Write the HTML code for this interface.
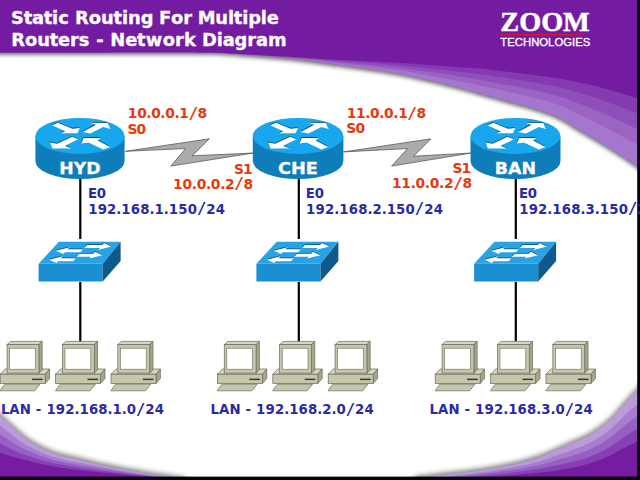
<!DOCTYPE html>
<html lang="en"><head><meta charset="utf-8"><title>Static Routing For Multiple Routers - Network Diagram</title>
<style>
html,body{margin:0;padding:0;background:#fff;width:640px;height:480px;overflow:hidden}
svg{display:block;position:absolute;left:0;top:0}
text{font-family:"DejaVu Sans","Liberation Sans",sans-serif;font-weight:bold}
.t{fill:#fff;font-size:18px;stroke:#fff;stroke-width:0.3px}
.r{fill:#e8380d;font-size:13.5px}
.b{fill:#2a2aa6;font-size:13.5px}
.n{fill:#fff;font-size:16.4px;stroke:#fff;stroke-width:0.3px}
</style></head><body>
<svg width="640" height="480" viewBox="0 0 640 480">
<defs>
<filter id="bl1" x="-5%" y="-20%" width="110%" height="140%"><feGaussianBlur stdDeviation="2"/></filter>
<filter id="bl2" x="-5%" y="-20%" width="110%" height="140%"><feGaussianBlur stdDeviation="2.6"/></filter>
<filter id="bl05" x="-5%" y="-20%" width="110%" height="140%"><feGaussianBlur stdDeviation="0.6"/></filter>
</defs>
<rect width="640" height="480" fill="#fff"/>

<path d="M-5.0,54.6 C12.5,54.6 65.8,54.6 100.0,54.6 C134.2,54.6 176.7,54.3 200.0,54.6 C223.3,54.9 225.0,55.4 240.0,56.4 C255.0,57.4 273.3,58.6 290.0,60.4 C306.7,62.2 321.7,64.5 340.0,67.1 C358.3,69.7 381.7,72.7 400.0,76.1 C418.3,79.5 435.0,83.9 450.0,87.6 C465.0,91.3 473.3,93.7 490.0,98.4 C506.7,103.1 535.0,110.2 550.0,115.9 C565.0,121.6 570.0,126.8 580.0,132.6 C590.0,138.4 600.7,144.8 610.0,150.6 C619.3,156.4 629.7,163.4 636.0,167.6 C642.3,171.8 646.0,174.3 648.0,175.6 L648,-5 L-5,-5 Z" fill="#333" filter="url(#bl1)" opacity="0.75"/>
<path d="M-5.0,52.5 C12.5,52.5 65.8,52.5 100.0,52.5 C134.2,52.5 176.7,52.2 200.0,52.5 C223.3,52.8 225.0,53.3 240.0,54.3 C255.0,55.3 273.3,56.5 290.0,58.3 C306.7,60.1 321.7,62.4 340.0,65.0 C358.3,67.6 381.7,70.6 400.0,74.0 C418.3,77.4 435.0,81.8 450.0,85.5 C465.0,89.2 473.3,91.6 490.0,96.3 C506.7,101.0 535.0,108.1 550.0,113.8 C565.0,119.5 570.0,124.7 580.0,130.5 C590.0,136.3 600.7,142.7 610.0,148.5 C619.3,154.3 629.7,161.3 636.0,165.5 C642.3,169.7 646.0,172.2 648.0,173.5 L648,-5 L-5,-5 Z" fill="#a576cd" filter="url(#bl05)"/>
<path d="M-5.0,52.5 C12.5,52.5 65.8,52.5 100.0,52.5 C134.2,52.5 176.7,52.2 200.0,52.5 C223.3,52.8 225.0,53.3 240.0,54.2 C255.0,55.1 273.3,56.3 290.0,57.8 C306.7,59.4 321.7,61.3 340.0,63.4 C358.3,65.5 381.7,67.8 400.0,70.5 C418.3,73.2 435.0,76.5 450.0,79.4 C465.0,82.3 473.3,84.0 490.0,87.8 C506.7,91.6 535.0,97.5 550.0,102.1 C565.0,106.6 570.0,110.5 580.0,115.1 C590.0,119.8 600.7,125.0 610.0,129.8 C619.3,134.6 629.7,140.4 636.0,143.9 C642.3,147.4 646.0,149.6 648.0,150.8 L648,-5 L-5,-5 Z" fill="#9a64c4" filter="url(#bl05)"/>
<path d="M-5.0,52.5 C12.5,52.5 65.8,52.5 100.0,52.5 C134.2,52.5 176.7,52.2 200.0,52.5 C223.3,52.8 225.0,53.3 240.0,54.1 C255.0,55.0 273.3,56.1 290.0,57.5 C306.7,58.8 321.7,60.5 340.0,62.2 C358.3,64.0 381.7,65.8 400.0,68.0 C418.3,70.1 435.0,72.8 450.0,75.0 C465.0,77.3 473.3,78.6 490.0,81.7 C506.7,84.8 535.0,89.9 550.0,93.7 C565.0,97.4 570.0,100.3 580.0,104.1 C590.0,107.9 600.7,112.3 610.0,116.3 C619.3,120.4 629.7,125.4 636.0,128.4 C642.3,131.4 646.0,133.4 648.0,134.4 L648,-5 L-5,-5 Z" fill="#8e50ba" filter="url(#bl05)"/>
<path d="M-5.0,52.5 C12.5,52.5 65.8,52.5 100.0,52.5 C134.2,52.5 176.7,52.2 200.0,52.5 C223.3,52.8 225.0,53.3 240.0,54.1 C255.0,54.8 273.3,56.0 290.0,57.1 C306.7,58.3 321.7,59.7 340.0,61.1 C358.3,62.5 381.7,63.8 400.0,65.4 C418.3,67.0 435.0,69.0 450.0,70.7 C465.0,72.4 473.3,73.1 490.0,75.6 C506.7,78.0 535.0,82.3 550.0,85.3 C565.0,88.2 570.0,90.1 580.0,93.1 C590.0,96.0 600.7,99.6 610.0,102.9 C619.3,106.2 629.7,110.3 636.0,112.8 C642.3,115.4 646.0,117.2 648.0,118.1 L648,-5 L-5,-5 Z" fill="#843aaf" filter="url(#bl05)"/>
<path d="M-5.0,52.5 C12.5,52.5 65.8,52.5 100.0,52.5 C134.2,52.5 176.7,52.2 200.0,52.5 C223.3,52.8 225.0,53.3 240.0,54.0 C255.0,54.7 273.3,55.8 290.0,56.8 C306.7,57.8 321.7,59.0 340.0,60.0 C358.3,61.0 381.7,61.9 400.0,63.0 C418.3,64.1 435.0,65.4 450.0,66.5 C465.0,67.6 473.3,67.9 490.0,69.7 C506.7,71.5 535.0,75.1 550.0,77.2 C565.0,79.3 570.0,80.4 580.0,82.5 C590.0,84.6 600.7,87.4 610.0,90.0 C619.3,92.6 629.7,95.9 636.0,98.0 C642.3,100.1 646.0,101.8 648.0,102.5 L648,-5 L-5,-5 Z" fill="#741ca1" />
<path d="M-6.0,407.4 C-5.0,408.3 -3.1,410.2 0.0,413.0 C3.1,415.8 8.3,420.7 12.5,424.4 C16.7,428.1 20.8,432.2 25.0,435.4 C29.2,438.6 33.3,441.1 37.5,443.4 C41.7,445.7 45.8,447.7 50.0,449.4 C54.2,451.1 57.5,452.1 62.5,453.4 C67.5,454.7 74.8,456.1 80.0,457.4 C85.2,458.6 87.3,459.4 94.0,460.9 C100.7,462.4 110.7,464.6 120.0,466.4 C129.3,468.2 142.5,470.4 150.0,471.7 C157.5,472.9 159.2,473.0 165.0,473.9 C170.8,474.8 181.7,476.4 185.0,476.9 L185,485 L-6,485 Z" fill="#333" filter="url(#bl2)" opacity="0.6"/>
<path d="M-6.0,410.0 C-5.0,410.9 -3.1,412.8 0.0,415.6 C3.1,418.4 8.3,423.3 12.5,427.0 C16.7,430.7 20.8,434.8 25.0,438.0 C29.2,441.2 33.3,443.7 37.5,446.0 C41.7,448.3 45.8,450.3 50.0,452.0 C54.2,453.7 57.5,454.7 62.5,456.0 C67.5,457.3 74.8,458.8 80.0,460.0 C85.2,461.2 87.3,462.0 94.0,463.5 C100.7,465.0 110.7,467.2 120.0,469.0 C129.3,470.8 142.5,473.1 150.0,474.3 C157.5,475.6 159.2,475.6 165.0,476.5 C170.8,477.4 181.7,479.0 185.0,479.5 L185.0,485 L-6,485 Z" fill="#bb9ada" filter="url(#bl05)"/>
<path d="M-6.0,421.1 C-5.0,421.8 -2.9,423.4 0.0,425.6 C2.9,427.9 7.7,431.7 11.6,434.7 C15.4,437.7 19.0,440.8 23.3,443.5 C27.6,446.1 33.2,448.7 37.5,450.7 C41.8,452.7 45.0,454.1 48.9,455.5 C52.8,456.9 55.8,457.7 60.7,458.9 C65.7,460.1 73.1,461.5 78.7,462.6 C84.2,463.7 87.1,464.4 94.0,465.7 C100.9,467.0 111.1,468.9 120.0,470.4 C128.9,471.9 140.0,473.7 147.3,474.8 C154.6,475.9 157.8,476.2 163.7,477.0 C169.5,477.9 179.2,479.4 182.3,479.9 L182.3,485 L-6,485 Z" fill="#a77dcf" filter="url(#bl05)"/>
<path d="M-6.0,430.5 C-5.0,431.1 -2.8,432.4 0.0,434.2 C2.8,436.0 7.1,438.9 10.8,441.2 C14.4,443.6 17.4,445.9 21.9,448.1 C26.3,450.4 33.1,452.9 37.5,454.6 C41.9,456.4 44.4,457.4 48.0,458.5 C51.6,459.6 54.3,460.3 59.2,461.4 C64.2,462.4 71.7,463.8 77.5,464.8 C83.3,465.8 86.9,466.5 94.0,467.6 C101.1,468.8 111.5,470.4 120.0,471.6 C128.5,472.9 137.9,474.2 145.0,475.1 C152.1,476.1 156.7,476.6 162.5,477.5 C168.3,478.4 177.1,479.8 180.0,480.2 L180.0,485 L-6,485 Z" fill="#955fc3" filter="url(#bl05)"/>
<path d="M-6.0,440.8 C-5.0,441.2 -2.6,442.2 0.0,443.5 C2.6,444.8 6.5,446.8 9.9,448.4 C13.3,450.0 15.7,451.5 20.3,453.2 C24.9,455.0 33.1,457.6 37.5,459.0 C41.9,460.4 43.6,460.9 47.0,461.8 C50.4,462.6 52.8,463.2 57.6,464.1 C62.5,465.0 70.2,466.3 76.2,467.2 C82.3,468.1 86.7,468.8 94.0,469.7 C101.3,470.7 111.9,471.9 120.0,472.9 C128.1,473.9 135.6,474.7 142.5,475.6 C149.4,476.4 155.4,477.2 161.2,478.0 C167.1,478.8 174.8,480.2 177.5,480.6 L177.5,485 L-6,485 Z" fill="#8641b4" filter="url(#bl05)"/>
<path d="M-6.0,451.0 C-5.0,451.3 -2.5,452.1 0.0,452.8 C2.5,453.6 5.9,454.6 9.0,455.5 C12.1,456.4 14.0,457.0 18.8,458.3 C23.5,459.6 33.0,462.2 37.5,463.3 C42.0,464.4 42.9,464.4 46.0,465.0 C49.1,465.6 51.2,466.0 56.0,466.8 C60.8,467.6 68.7,468.8 75.0,469.6 C81.3,470.4 86.5,471.0 94.0,471.8 C101.5,472.6 112.3,473.5 120.0,474.2 C127.7,474.9 133.3,475.3 140.0,476.0 C146.7,476.7 154.2,477.7 160.0,478.5 C165.8,479.3 172.5,480.6 175.0,481.0 L175.0,485 L-6,485 Z" fill="#741ca1" filter="url(#bl05)"/>
<path d="M648.0,372.4 C646.2,375.0 640.0,384.1 637.0,387.9 C634.0,391.6 632.4,392.3 630.0,394.9 C627.6,397.5 625.8,399.6 622.5,403.4 C619.2,407.1 614.2,413.4 610.0,417.4 C605.8,421.4 601.7,424.5 597.5,427.4 C593.3,430.3 589.2,432.7 585.0,434.9 C580.8,437.1 576.7,438.6 572.5,440.4 C568.3,442.2 565.4,443.5 560.0,445.9 C554.6,448.3 546.7,452.2 540.0,454.6 C533.3,457.0 526.7,458.7 520.0,460.4 C513.3,462.1 506.7,463.4 500.0,464.7 C493.3,466.0 486.7,467.2 480.0,468.2 C473.3,469.2 466.7,469.9 460.0,470.7 C453.3,471.5 447.5,472.0 440.0,472.9 C432.5,473.8 419.2,475.4 415.0,475.9 L415,485 L648,485 Z" fill="#333" filter="url(#bl2)" opacity="0.6"/>
<path d="M648.0,375.0 C646.2,377.6 640.0,386.8 637.0,390.5 C634.0,394.2 632.4,394.9 630.0,397.5 C627.6,400.1 625.8,402.2 622.5,406.0 C619.2,409.8 614.2,416.0 610.0,420.0 C605.8,424.0 601.7,427.1 597.5,430.0 C593.3,432.9 589.2,435.3 585.0,437.5 C580.8,439.7 576.7,441.2 572.5,443.0 C568.3,444.8 565.4,446.1 560.0,448.5 C554.6,450.9 546.7,454.8 540.0,457.2 C533.3,459.6 526.7,461.3 520.0,463.0 C513.3,464.7 506.7,466.0 500.0,467.3 C493.3,468.6 486.7,469.8 480.0,470.8 C473.3,471.8 466.7,472.5 460.0,473.3 C453.3,474.1 447.5,474.6 440.0,475.5 C432.5,476.4 419.2,478.0 415.0,478.5 L415.0,485 L648,485 Z" fill="#bb9ada" filter="url(#bl05)"/>
<path d="M648.0,390.9 C646.2,393.2 640.0,401.0 637.0,404.3 C634.0,407.5 632.4,408.1 630.0,410.3 C627.6,412.5 625.8,414.4 622.5,417.5 C619.2,420.7 614.3,426.0 610.3,429.4 C606.2,432.9 602.2,435.6 598.2,438.1 C594.2,440.6 590.3,442.6 586.4,444.5 C582.4,446.3 578.9,447.6 574.5,449.2 C570.1,450.8 565.8,452.3 560.0,454.3 C554.2,456.3 546.7,459.4 540.0,461.3 C533.3,463.3 526.7,464.7 520.0,466.1 C513.3,467.5 506.7,468.6 500.0,469.6 C493.3,470.7 486.4,471.7 480.0,472.6 C473.6,473.5 467.6,474.1 461.4,474.8 C455.1,475.5 449.3,476.1 442.7,476.9 C436.1,477.6 425.2,479.0 421.8,479.4 L421.8,485 L648,485 Z" fill="#a77dcf" filter="url(#bl05)"/>
<path d="M648.0,404.5 C646.2,406.4 640.0,413.2 637.0,416.0 C634.0,418.8 632.4,419.4 630.0,421.2 C627.6,423.1 625.8,424.7 622.5,427.4 C619.2,430.1 614.5,434.6 610.5,437.5 C606.5,440.4 602.6,442.9 598.8,445.0 C594.9,447.1 591.2,448.8 587.5,450.4 C583.8,452.0 580.8,453.0 576.2,454.5 C571.7,456.0 566.0,457.5 560.0,459.2 C554.0,461.0 546.7,463.3 540.0,464.9 C533.3,466.4 526.7,467.6 520.0,468.8 C513.3,469.9 506.7,470.8 500.0,471.6 C493.3,472.5 486.2,473.4 480.0,474.1 C473.8,474.9 468.3,475.5 462.5,476.1 C456.7,476.8 450.8,477.3 445.0,478.0 C439.2,478.7 430.4,479.9 427.5,480.2 L427.5,485 L648,485 Z" fill="#955fc3" filter="url(#bl05)"/>
<path d="M648.0,419.2 C646.2,420.8 640.0,426.4 637.0,428.8 C634.0,431.1 632.4,431.6 630.0,433.1 C627.6,434.7 625.7,435.9 622.5,438.1 C619.3,440.2 614.6,443.8 610.8,446.2 C606.9,448.7 603.0,450.7 599.4,452.5 C595.7,454.3 592.3,455.6 588.8,456.9 C585.2,458.1 582.9,459.0 578.1,460.2 C573.3,461.5 566.4,463.2 560.0,464.6 C553.6,466.0 546.7,467.5 540.0,468.7 C533.3,469.8 526.7,470.8 520.0,471.6 C513.3,472.5 506.7,473.1 500.0,473.8 C493.3,474.5 486.0,475.2 480.0,475.8 C474.0,476.4 469.2,477.0 463.8,477.6 C458.3,478.1 452.5,478.7 447.5,479.2 C442.5,479.8 436.0,480.8 433.8,481.1 L433.8,485 L648,485 Z" fill="#8641b4" filter="url(#bl05)"/>
<path d="M648.0,434.0 C646.2,435.2 640.0,439.7 637.0,441.5 C634.0,443.3 632.4,443.8 630.0,445.0 C627.6,446.2 625.7,447.1 622.5,448.8 C619.3,450.4 614.8,453.1 611.0,455.0 C607.2,456.9 603.5,458.6 600.0,460.0 C596.5,461.4 593.3,462.3 590.0,463.3 C586.7,464.3 585.0,464.9 580.0,466.0 C575.0,467.1 566.7,468.9 560.0,470.0 C553.3,471.1 546.7,471.8 540.0,472.5 C533.3,473.2 526.7,473.9 520.0,474.5 C513.3,475.1 506.7,475.5 500.0,476.0 C493.3,476.5 485.8,477.0 480.0,477.5 C474.2,478.0 470.0,478.5 465.0,479.0 C460.0,479.5 454.2,480.0 450.0,480.5 C445.8,481.0 441.7,481.8 440.0,482.0 L440.0,485 L648,485 Z" fill="#741ca1" filter="url(#bl05)"/>
<rect x="0" y="476.6" width="640" height="4" fill="#08000c"/>
<rect x="637.2" y="0" width="3" height="480" fill="#08000c"/>
<text x="500.3" y="30.6" textLength="89.5" lengthAdjust="spacingAndGlyphs" style="font-family:'Liberation Serif',serif;font-weight:bold;font-size:27.5px;fill:#fff;stroke:#fff;stroke-width:0.5px">ZOOM</text>
<rect x="500.5" y="33.9" width="83" height="1.5" fill="#cf1a3a"/>
<text x="500.3" y="46.3" textLength="90" lengthAdjust="spacingAndGlyphs" style="font-family:'Liberation Sans',sans-serif;font-weight:normal;font-size:10px;fill:#fff;stroke:#fff;stroke-width:0.3px">TECHNOLOGIES</text>
<polygon points="125.5,151.3 209.3,138.8 192.2,155.8 253.5,153.0 170.8,166.1 185.6,148.6" fill="#ababab" stroke="#4a4a4a" stroke-width="0.7" stroke-linejoin="miter"/>
<polygon points="343.5,151.9 431.0,138.8 413.5,156.2 471.5,153.0 391.6,166.1 407.6,148.6" fill="#ababab" stroke="#4a4a4a" stroke-width="0.7" stroke-linejoin="miter"/>
<rect x="79.2" y="176" width="2.2" height="63" fill="#000"/>
<rect x="79.2" y="282" width="2.2" height="59.5" fill="#000"/>
<rect x="297.7" y="176" width="2.2" height="63" fill="#000"/>
<rect x="297.7" y="282" width="2.2" height="59.5" fill="#000"/>
<rect x="514.7" y="176" width="2.2" height="63" fill="#000"/>
<rect x="514.7" y="282" width="2.2" height="59.5" fill="#000"/>
<path d="M35.40,135.9 L35.40,161.1 A44.6,18 0 0 0 124.60,161.1 L124.60,135.9 Z" fill="#107dbb"/>
<ellipse cx="80.00" cy="135.9" rx="44.6" ry="18" fill="#18a7ef"/>
<polygon points="51.7,124.4 57.6,121.9 72.2,127.8 79.5,127.2 77.2,132.3 60.9,132.3 64.9,130.3" fill="#0b4a70"/>
<polygon points="52.0,125.3 57.9,122.8 72.5,128.7 79.8,128.1 77.5,133.2 61.1,133.2 65.2,131.2" fill="#fff"/>
<polygon points="82.2,131.2 90.0,132.6 103.0,126.1 110.2,128.1 107.5,122.2 89.5,121.9 95.7,123.8" fill="#0b4a70"/>
<polygon points="82.5,132.1 90.3,133.5 103.2,127.0 110.5,129.0 107.8,123.1 89.8,122.8 96.0,124.7" fill="#fff"/>
<polygon points="71.9,135.9 78.0,138.4 64.5,144.9 71.2,147.7 52.2,147.7 49.9,141.5 56.7,142.9" fill="#0b4a70"/>
<polygon points="72.2,136.8 78.3,139.3 64.8,145.8 71.5,148.6 52.5,148.6 50.1,142.4 57.0,143.8" fill="#fff"/>
<polygon points="83.2,137.0 81.0,142.6 88.0,141.5 103.0,148.5 109.7,146.0 97.4,139.5 100.2,137.0" fill="#0b4a70"/>
<polygon points="83.5,137.9 81.3,143.5 88.3,142.4 103.2,149.4 110.0,146.9 97.7,140.4 100.5,137.9" fill="#fff"/>
<text class="n" x="79.9" y="174.4" text-anchor="middle" textLength="41.2" lengthAdjust="spacingAndGlyphs">HYD</text>
<path d="M252.80,135.9 L252.80,161.1 A45.3,18 0 0 0 343.40,161.1 L343.40,135.9 Z" fill="#107dbb"/>
<ellipse cx="298.10" cy="135.9" rx="45.3" ry="18" fill="#18a7ef"/>
<polygon points="269.8,124.4 275.7,121.9 290.2,127.8 297.6,127.2 295.2,132.3 278.9,132.3 282.9,130.3" fill="#0b4a70"/>
<polygon points="270.1,125.3 276.0,122.8 290.6,128.7 297.9,128.1 295.6,133.2 279.2,133.2 283.2,131.2" fill="#fff"/>
<polygon points="300.2,131.2 308.2,132.6 321.1,126.1 328.4,128.1 325.6,122.2 307.6,121.9 313.8,123.8" fill="#0b4a70"/>
<polygon points="300.6,132.1 308.5,133.5 321.4,127.0 328.7,129.0 325.9,123.1 307.9,122.8 314.1,124.7" fill="#fff"/>
<polygon points="289.9,135.9 296.2,138.4 282.7,144.9 289.4,147.7 270.2,147.7 267.9,141.5 274.8,142.9" fill="#0b4a70"/>
<polygon points="290.2,136.8 296.5,139.3 283.0,145.8 289.7,148.6 270.6,148.6 268.2,142.4 275.1,143.8" fill="#fff"/>
<polygon points="301.4,137.0 299.2,142.6 306.2,141.5 321.1,148.5 327.8,146.0 315.4,139.5 318.2,137.0" fill="#0b4a70"/>
<polygon points="301.7,137.9 299.5,143.5 306.5,142.4 321.4,149.4 328.1,146.9 315.8,140.4 318.6,137.9" fill="#fff"/>
<text class="n" x="298.0" y="174.4" text-anchor="middle" textLength="40" lengthAdjust="spacingAndGlyphs">CHE</text>
<path d="M470.50,135.9 L470.50,161.1 A45.0,18 0 0 0 560.50,161.1 L560.50,135.9 Z" fill="#107dbb"/>
<ellipse cx="515.50" cy="135.9" rx="45.0" ry="18" fill="#18a7ef"/>
<polygon points="487.1,124.4 493.1,121.9 507.6,127.8 515.0,127.2 512.7,132.3 496.3,132.3 500.3,130.3" fill="#0b4a70"/>
<polygon points="487.4,125.3 493.4,122.8 507.9,128.7 515.2,128.1 513.0,133.2 496.6,133.2 500.6,131.2" fill="#fff"/>
<polygon points="517.7,131.2 525.6,132.6 538.5,126.1 545.8,128.1 543.0,122.2 525.0,121.9 531.2,123.8" fill="#0b4a70"/>
<polygon points="518.0,132.1 525.9,133.5 538.8,127.0 546.0,129.0 543.2,123.1 525.2,122.8 531.5,124.7" fill="#fff"/>
<polygon points="507.3,135.9 513.6,138.4 500.1,144.9 506.8,147.7 487.6,147.7 485.3,141.5 492.1,142.9" fill="#0b4a70"/>
<polygon points="507.6,136.8 513.9,139.3 500.4,145.8 507.1,148.6 487.9,148.6 485.6,142.4 492.4,143.8" fill="#fff"/>
<polygon points="518.8,137.0 516.6,142.6 523.6,141.5 538.5,148.5 545.2,146.0 532.9,139.5 535.7,137.0" fill="#0b4a70"/>
<polygon points="519.0,137.9 516.9,143.5 523.9,142.4 538.8,149.4 545.5,146.9 533.1,140.4 536.0,137.9" fill="#fff"/>
<text class="n" x="515.4" y="174.4" text-anchor="middle" textLength="41.2" lengthAdjust="spacingAndGlyphs">BAN</text>
<polygon points="38.6,263.8 102.7,263.8 102.7,281.5 38.6,281.5" fill="#1c8fd2"/>
<polygon points="38.6,263.8 58.9,241.7 120.6,241.7 102.7,263.8" fill="#27a3e6"/>
<polygon points="102.7,263.8 120.6,241.7 120.6,261.0 102.7,281.5" fill="#0f5a8c"/>
<polygon points="86.7,244.2 102.1,244.2 103.9,242.3 111.3,245.7 97.7,249.1 99.5,247.2 84.0,247.2" fill="#0b4a70"/>
<polygon points="86.9,245.0 102.3,245.0 104.1,243.1 111.5,246.5 97.9,249.9 99.7,248.0 84.2,248.0" fill="#fff"/>
<polygon points="82.8,248.4 67.4,248.4 69.2,246.5 55.6,249.9 63.0,253.3 64.8,251.4 80.2,251.4" fill="#0b4a70"/>
<polygon points="83.0,249.2 67.6,249.2 69.4,247.3 55.8,250.7 63.2,254.1 65.0,252.2 80.4,252.2" fill="#fff"/>
<polygon points="78.9,252.9 93.1,252.9 94.9,251.0 102.3,254.4 88.7,257.8 90.5,255.9 76.2,255.9" fill="#0b4a70"/>
<polygon points="79.1,253.7 93.3,253.7 95.1,251.8 102.5,255.2 88.9,258.6 90.7,256.7 76.4,256.7" fill="#fff"/>
<polygon points="75.5,257.4 60.6,257.4 62.4,255.5 48.8,258.9 56.2,262.3 57.9,260.4 72.9,260.4" fill="#0b4a70"/>
<polygon points="75.8,258.2 60.9,258.2 62.6,256.3 49.0,259.7 56.4,263.1 58.1,261.2 73.1,261.2" fill="#fff"/>
<polygon points="256.4,263.8 320.5,263.8 320.5,281.5 256.4,281.5" fill="#1c8fd2"/>
<polygon points="256.4,263.8 276.7,241.7 338.4,241.7 320.5,263.8" fill="#27a3e6"/>
<polygon points="320.5,263.8 338.4,241.7 338.4,261.0 320.5,281.5" fill="#0f5a8c"/>
<polygon points="304.6,244.2 319.9,244.2 321.7,242.3 329.1,245.7 315.5,249.1 317.3,247.2 301.9,247.2" fill="#0b4a70"/>
<polygon points="304.8,245.0 320.1,245.0 321.9,243.1 329.3,246.5 315.7,249.9 317.5,248.0 302.1,248.0" fill="#fff"/>
<polygon points="300.7,248.4 285.2,248.4 287.0,246.5 273.4,249.9 280.8,253.3 282.6,251.4 298.0,251.4" fill="#0b4a70"/>
<polygon points="300.9,249.2 285.4,249.2 287.2,247.3 273.6,250.7 281.0,254.1 282.8,252.2 298.2,252.2" fill="#fff"/>
<polygon points="296.7,252.9 310.9,252.9 312.7,251.0 320.1,254.4 306.5,257.8 308.3,255.9 294.0,255.9" fill="#0b4a70"/>
<polygon points="296.9,253.7 311.1,253.7 312.9,251.8 320.3,255.2 306.7,258.6 308.5,256.7 294.2,256.7" fill="#fff"/>
<polygon points="293.4,257.4 278.5,257.4 280.2,255.5 266.6,258.9 274.0,262.3 275.8,260.4 290.7,260.4" fill="#0b4a70"/>
<polygon points="293.6,258.2 278.7,258.2 280.4,256.3 266.8,259.7 274.2,263.1 275.9,261.2 290.9,261.2" fill="#fff"/>
<polygon points="474.1,263.8 538.2,263.8 538.2,281.5 474.1,281.5" fill="#1c8fd2"/>
<polygon points="474.1,263.8 494.4,241.7 556.1,241.7 538.2,263.8" fill="#27a3e6"/>
<polygon points="538.2,263.8 556.1,241.7 556.1,261.0 538.2,281.5" fill="#0f5a8c"/>
<polygon points="522.2,244.2 537.6,244.2 539.4,242.3 546.8,245.7 533.2,249.1 534.9,247.2 519.5,247.2" fill="#0b4a70"/>
<polygon points="522.5,245.0 537.9,245.0 539.6,243.1 547.0,246.5 533.4,249.9 535.1,248.0 519.8,248.0" fill="#fff"/>
<polygon points="518.3,248.4 502.9,248.4 504.7,246.5 491.1,249.9 498.5,253.3 500.2,251.4 515.6,251.4" fill="#0b4a70"/>
<polygon points="518.5,249.2 503.1,249.2 504.9,247.3 491.3,250.7 498.7,254.1 500.4,252.2 515.9,252.2" fill="#fff"/>
<polygon points="514.4,252.9 528.6,252.9 530.4,251.0 537.8,254.4 524.2,257.8 525.9,255.9 511.7,255.9" fill="#0b4a70"/>
<polygon points="514.6,253.7 528.9,253.7 530.6,251.8 538.0,255.2 524.4,258.6 526.1,256.7 511.9,256.7" fill="#fff"/>
<polygon points="511.1,257.4 496.2,257.4 497.9,255.5 484.3,258.9 491.7,262.3 493.4,260.4 508.4,260.4" fill="#0b4a70"/>
<polygon points="511.2,258.2 496.4,258.2 498.1,256.3 484.5,259.7 491.9,263.1 493.6,261.2 508.6,261.2" fill="#fff"/>
<g transform="translate(0.2,0.6)"><polygon points="0.0,373.6 45.0,373.6 49.4,368.4 5.0,368.4" fill="#d6d6c2" stroke="#6a6a58" stroke-width="0.7"/><polygon points="45.0,373.6 49.4,368.4 49.4,377.9 45.0,382.9" fill="#a6a68c" stroke="#6a6a58" stroke-width="0.7"/><rect x="0" y="373.6" width="45" height="9.3" fill="#c6c6ae" stroke="#6a6a58" stroke-width="0.7"/><rect x="31.9" y="378" width="10.6" height="1.5" fill="#3a3a30"/><polygon points="6.8,344.0 38.7,344.0 42.0,340.8 10.5,340.8" fill="#d6d6c2" stroke="#6a6a58" stroke-width="0.7"/><polygon points="38.7,344.0 42.0,340.8 42.0,369.3 38.7,372.5" fill="#a6a68c" stroke="#6a6a58" stroke-width="0.7"/><rect x="6.85" y="344" width="31.85" height="28.5" fill="#c6c6ae" stroke="#6a6a58" stroke-width="0.7"/><rect x="9.4" y="347.6" width="25.8" height="21" fill="#fff" stroke="#6a6a58" stroke-width="0.6"/><polygon points="4.6,383.6 39.8,383.6 34.4,390.2 -0.2,390.2" fill="#c6c6ae" stroke="#6a6a58" stroke-width="0.7"/></g>
<g transform="translate(55.6,0.6)"><polygon points="0.0,373.6 45.0,373.6 49.4,368.4 5.0,368.4" fill="#d6d6c2" stroke="#6a6a58" stroke-width="0.7"/><polygon points="45.0,373.6 49.4,368.4 49.4,377.9 45.0,382.9" fill="#a6a68c" stroke="#6a6a58" stroke-width="0.7"/><rect x="0" y="373.6" width="45" height="9.3" fill="#c6c6ae" stroke="#6a6a58" stroke-width="0.7"/><rect x="31.9" y="378" width="10.6" height="1.5" fill="#3a3a30"/><polygon points="6.8,344.0 38.7,344.0 42.0,340.8 10.5,340.8" fill="#d6d6c2" stroke="#6a6a58" stroke-width="0.7"/><polygon points="38.7,344.0 42.0,340.8 42.0,369.3 38.7,372.5" fill="#a6a68c" stroke="#6a6a58" stroke-width="0.7"/><rect x="6.85" y="344" width="31.85" height="28.5" fill="#c6c6ae" stroke="#6a6a58" stroke-width="0.7"/><rect x="9.4" y="347.6" width="25.8" height="21" fill="#fff" stroke="#6a6a58" stroke-width="0.6"/><polygon points="4.6,383.6 39.8,383.6 34.4,390.2 -0.2,390.2" fill="#c6c6ae" stroke="#6a6a58" stroke-width="0.7"/></g>
<g transform="translate(111.0,0.6)"><polygon points="0.0,373.6 45.0,373.6 49.4,368.4 5.0,368.4" fill="#d6d6c2" stroke="#6a6a58" stroke-width="0.7"/><polygon points="45.0,373.6 49.4,368.4 49.4,377.9 45.0,382.9" fill="#a6a68c" stroke="#6a6a58" stroke-width="0.7"/><rect x="0" y="373.6" width="45" height="9.3" fill="#c6c6ae" stroke="#6a6a58" stroke-width="0.7"/><rect x="31.9" y="378" width="10.6" height="1.5" fill="#3a3a30"/><polygon points="6.8,344.0 38.7,344.0 42.0,340.8 10.5,340.8" fill="#d6d6c2" stroke="#6a6a58" stroke-width="0.7"/><polygon points="38.7,344.0 42.0,340.8 42.0,369.3 38.7,372.5" fill="#a6a68c" stroke="#6a6a58" stroke-width="0.7"/><rect x="6.85" y="344" width="31.85" height="28.5" fill="#c6c6ae" stroke="#6a6a58" stroke-width="0.7"/><rect x="9.4" y="347.6" width="25.8" height="21" fill="#fff" stroke="#6a6a58" stroke-width="0.6"/><polygon points="4.6,383.6 39.8,383.6 34.4,390.2 -0.2,390.2" fill="#c6c6ae" stroke="#6a6a58" stroke-width="0.7"/></g>
<g transform="translate(217.4,0.6)"><polygon points="0.0,373.6 45.0,373.6 49.4,368.4 5.0,368.4" fill="#d6d6c2" stroke="#6a6a58" stroke-width="0.7"/><polygon points="45.0,373.6 49.4,368.4 49.4,377.9 45.0,382.9" fill="#a6a68c" stroke="#6a6a58" stroke-width="0.7"/><rect x="0" y="373.6" width="45" height="9.3" fill="#c6c6ae" stroke="#6a6a58" stroke-width="0.7"/><rect x="31.9" y="378" width="10.6" height="1.5" fill="#3a3a30"/><polygon points="6.8,344.0 38.7,344.0 42.0,340.8 10.5,340.8" fill="#d6d6c2" stroke="#6a6a58" stroke-width="0.7"/><polygon points="38.7,344.0 42.0,340.8 42.0,369.3 38.7,372.5" fill="#a6a68c" stroke="#6a6a58" stroke-width="0.7"/><rect x="6.85" y="344" width="31.85" height="28.5" fill="#c6c6ae" stroke="#6a6a58" stroke-width="0.7"/><rect x="9.4" y="347.6" width="25.8" height="21" fill="#fff" stroke="#6a6a58" stroke-width="0.6"/><polygon points="4.6,383.6 39.8,383.6 34.4,390.2 -0.2,390.2" fill="#c6c6ae" stroke="#6a6a58" stroke-width="0.7"/></g>
<g transform="translate(272.8,0.6)"><polygon points="0.0,373.6 45.0,373.6 49.4,368.4 5.0,368.4" fill="#d6d6c2" stroke="#6a6a58" stroke-width="0.7"/><polygon points="45.0,373.6 49.4,368.4 49.4,377.9 45.0,382.9" fill="#a6a68c" stroke="#6a6a58" stroke-width="0.7"/><rect x="0" y="373.6" width="45" height="9.3" fill="#c6c6ae" stroke="#6a6a58" stroke-width="0.7"/><rect x="31.9" y="378" width="10.6" height="1.5" fill="#3a3a30"/><polygon points="6.8,344.0 38.7,344.0 42.0,340.8 10.5,340.8" fill="#d6d6c2" stroke="#6a6a58" stroke-width="0.7"/><polygon points="38.7,344.0 42.0,340.8 42.0,369.3 38.7,372.5" fill="#a6a68c" stroke="#6a6a58" stroke-width="0.7"/><rect x="6.85" y="344" width="31.85" height="28.5" fill="#c6c6ae" stroke="#6a6a58" stroke-width="0.7"/><rect x="9.4" y="347.6" width="25.8" height="21" fill="#fff" stroke="#6a6a58" stroke-width="0.6"/><polygon points="4.6,383.6 39.8,383.6 34.4,390.2 -0.2,390.2" fill="#c6c6ae" stroke="#6a6a58" stroke-width="0.7"/></g>
<g transform="translate(328.2,0.6)"><polygon points="0.0,373.6 45.0,373.6 49.4,368.4 5.0,368.4" fill="#d6d6c2" stroke="#6a6a58" stroke-width="0.7"/><polygon points="45.0,373.6 49.4,368.4 49.4,377.9 45.0,382.9" fill="#a6a68c" stroke="#6a6a58" stroke-width="0.7"/><rect x="0" y="373.6" width="45" height="9.3" fill="#c6c6ae" stroke="#6a6a58" stroke-width="0.7"/><rect x="31.9" y="378" width="10.6" height="1.5" fill="#3a3a30"/><polygon points="6.8,344.0 38.7,344.0 42.0,340.8 10.5,340.8" fill="#d6d6c2" stroke="#6a6a58" stroke-width="0.7"/><polygon points="38.7,344.0 42.0,340.8 42.0,369.3 38.7,372.5" fill="#a6a68c" stroke="#6a6a58" stroke-width="0.7"/><rect x="6.85" y="344" width="31.85" height="28.5" fill="#c6c6ae" stroke="#6a6a58" stroke-width="0.7"/><rect x="9.4" y="347.6" width="25.8" height="21" fill="#fff" stroke="#6a6a58" stroke-width="0.6"/><polygon points="4.6,383.6 39.8,383.6 34.4,390.2 -0.2,390.2" fill="#c6c6ae" stroke="#6a6a58" stroke-width="0.7"/></g>
<g transform="translate(435.2,0.6)"><polygon points="0.0,373.6 45.0,373.6 49.4,368.4 5.0,368.4" fill="#d6d6c2" stroke="#6a6a58" stroke-width="0.7"/><polygon points="45.0,373.6 49.4,368.4 49.4,377.9 45.0,382.9" fill="#a6a68c" stroke="#6a6a58" stroke-width="0.7"/><rect x="0" y="373.6" width="45" height="9.3" fill="#c6c6ae" stroke="#6a6a58" stroke-width="0.7"/><rect x="31.9" y="378" width="10.6" height="1.5" fill="#3a3a30"/><polygon points="6.8,344.0 38.7,344.0 42.0,340.8 10.5,340.8" fill="#d6d6c2" stroke="#6a6a58" stroke-width="0.7"/><polygon points="38.7,344.0 42.0,340.8 42.0,369.3 38.7,372.5" fill="#a6a68c" stroke="#6a6a58" stroke-width="0.7"/><rect x="6.85" y="344" width="31.85" height="28.5" fill="#c6c6ae" stroke="#6a6a58" stroke-width="0.7"/><rect x="9.4" y="347.6" width="25.8" height="21" fill="#fff" stroke="#6a6a58" stroke-width="0.6"/><polygon points="4.6,383.6 39.8,383.6 34.4,390.2 -0.2,390.2" fill="#c6c6ae" stroke="#6a6a58" stroke-width="0.7"/></g>
<g transform="translate(490.6,0.6)"><polygon points="0.0,373.6 45.0,373.6 49.4,368.4 5.0,368.4" fill="#d6d6c2" stroke="#6a6a58" stroke-width="0.7"/><polygon points="45.0,373.6 49.4,368.4 49.4,377.9 45.0,382.9" fill="#a6a68c" stroke="#6a6a58" stroke-width="0.7"/><rect x="0" y="373.6" width="45" height="9.3" fill="#c6c6ae" stroke="#6a6a58" stroke-width="0.7"/><rect x="31.9" y="378" width="10.6" height="1.5" fill="#3a3a30"/><polygon points="6.8,344.0 38.7,344.0 42.0,340.8 10.5,340.8" fill="#d6d6c2" stroke="#6a6a58" stroke-width="0.7"/><polygon points="38.7,344.0 42.0,340.8 42.0,369.3 38.7,372.5" fill="#a6a68c" stroke="#6a6a58" stroke-width="0.7"/><rect x="6.85" y="344" width="31.85" height="28.5" fill="#c6c6ae" stroke="#6a6a58" stroke-width="0.7"/><rect x="9.4" y="347.6" width="25.8" height="21" fill="#fff" stroke="#6a6a58" stroke-width="0.6"/><polygon points="4.6,383.6 39.8,383.6 34.4,390.2 -0.2,390.2" fill="#c6c6ae" stroke="#6a6a58" stroke-width="0.7"/></g>
<g transform="translate(546.0,0.6)"><polygon points="0.0,373.6 45.0,373.6 49.4,368.4 5.0,368.4" fill="#d6d6c2" stroke="#6a6a58" stroke-width="0.7"/><polygon points="45.0,373.6 49.4,368.4 49.4,377.9 45.0,382.9" fill="#a6a68c" stroke="#6a6a58" stroke-width="0.7"/><rect x="0" y="373.6" width="45" height="9.3" fill="#c6c6ae" stroke="#6a6a58" stroke-width="0.7"/><rect x="31.9" y="378" width="10.6" height="1.5" fill="#3a3a30"/><polygon points="6.8,344.0 38.7,344.0 42.0,340.8 10.5,340.8" fill="#d6d6c2" stroke="#6a6a58" stroke-width="0.7"/><polygon points="38.7,344.0 42.0,340.8 42.0,369.3 38.7,372.5" fill="#a6a68c" stroke="#6a6a58" stroke-width="0.7"/><rect x="6.85" y="344" width="31.85" height="28.5" fill="#c6c6ae" stroke="#6a6a58" stroke-width="0.7"/><rect x="9.4" y="347.6" width="25.8" height="21" fill="#fff" stroke="#6a6a58" stroke-width="0.6"/><polygon points="4.6,383.6 39.8,383.6 34.4,390.2 -0.2,390.2" fill="#c6c6ae" stroke="#6a6a58" stroke-width="0.7"/></g>
<text class="t" style="font-size:17.9px" x="11.09 23.68 31.96 43.77 52.11 58.18 68.68 74.95 88.81 101.09 113.62 121.96 128.08 140.65 153.24 159.11 171.02 183.33 192.13 197.86 215.23 227.95 233.87 242.21 248.18 260.82 266.80" y="23.5">Static Routing For Multiple</text>
<text class="t" style="font-size:17.9px" x="11.27 25.11 37.36 49.87 58.06 70.06 78.87 89.41 96.14 104.07 110.28 125.16 136.94 145.74 162.71 175.00 183.88 195.74 201.88 216.68 222.72 234.53 247.19 255.95 268.05" y="45.5">Routers - Network Diagram</text>
<text class="r" style="font-size:13.8px" x="127.83 137.14 146.34 151.17 160.37 165.21 174.40 179.24 188.38 197.57" y="117.9">10.0.0.1<tspan style="font-family:'DejaVu Sans Mono','Liberation Mono',monospace;font-size:16.0px" dy="0.69">/</tspan><tspan dy="-0.69">8</tspan></text>
<text class="r" style="font-size:13.8px" x="127.47 136.57" y="133.8">S0</text>
<text class="r" style="font-size:13.8px" x="233.95 243.05" y="173.5">S1</text>
<text class="r" style="font-size:13.8px" x="173.04 182.46 191.74 196.66 205.94 210.86 220.14 225.06 234.32 243.61" y="188.8">10.0.0.2<tspan style="font-family:'DejaVu Sans Mono','Liberation Mono',monospace;font-size:16.0px" dy="0.69">/</tspan><tspan dy="-0.69">8</tspan></text>
<text class="r" style="font-size:13.8px" x="346.73 356.04 365.24 370.07 379.27 384.11 393.30 398.14 407.28 416.47" y="117.9">11.0.0.1<tspan style="font-family:'DejaVu Sans Mono','Liberation Mono',monospace;font-size:16.0px" dy="0.69">/</tspan><tspan dy="-0.69">8</tspan></text>
<text class="r" style="font-size:13.8px" x="346.37 355.47" y="133.10000000000002">S0</text>
<text class="r" style="font-size:13.8px" x="452.45 461.55" y="172.9">S1</text>
<text class="r" style="font-size:13.8px" x="391.94 401.36 410.64 415.56 424.84 429.76 439.04 443.96 453.22 462.51" y="188.3">11.0.0.2<tspan style="font-family:'DejaVu Sans Mono','Liberation Mono',monospace;font-size:16.0px" dy="0.69">/</tspan><tspan dy="-0.69">8</tspan></text>
<text class="b" style="font-size:13.3px" x="88.20 97.65 107.11 116.33 121.36 130.81 140.27 149.49 154.52 163.75 168.77 178.22 187.68 196.97 206.29 215.74" y="213.7">192.168.1.150<tspan style="font-family:'DejaVu Sans Mono','Liberation Mono',monospace;font-size:15.4px" dy="0.67">/</tspan><tspan dy="-0.67">24</tspan></text>
<text class="b" style="font-size:13.3px" x="87.96 96.87" y="197.9">E0</text>
<text class="b" style="font-size:13.3px" x="306.10 315.55 325.01 334.23 339.26 348.71 358.17 367.39 372.42 381.65 386.67 396.12 405.58 414.87 424.19 433.64" y="213.7">192.168.2.150<tspan style="font-family:'DejaVu Sans Mono','Liberation Mono',monospace;font-size:15.4px" dy="0.67">/</tspan><tspan dy="-0.67">24</tspan></text>
<text class="b" style="font-size:13.3px" x="305.86 314.77" y="197.9">E0</text>
<text class="b" style="font-size:13.3px" x="519.20 528.65 538.11 547.33 552.36 561.81 571.27 580.49 585.52 594.75 599.77 609.22 618.68 627.97 637.29 646.74" y="213.7">192.168.3.150<tspan style="font-family:'DejaVu Sans Mono','Liberation Mono',monospace;font-size:15.4px" dy="0.67">/</tspan><tspan dy="-0.67">24</tspan></text>
<text class="b" style="font-size:13.3px" x="518.96 527.87" y="197.9">E0</text>
<text class="b" style="font-size:13.3px" x="0.89 9.35 19.69 30.81 35.82 41.72 46.39 55.82 65.25 74.46 79.46 88.89 98.32 107.53 112.54 121.75 126.76 136.03 145.33 154.76" y="414.3">LAN - 192.168.1.0<tspan style="font-family:'DejaVu Sans Mono','Liberation Mono',monospace;font-size:15.4px" dy="0.67">/</tspan><tspan dy="-0.67">24</tspan></text>
<text class="b" style="font-size:13.3px" x="210.59 219.05 229.39 240.51 245.52 251.42 256.09 265.52 274.95 284.16 289.16 298.59 308.02 317.23 322.24 331.45 336.46 345.73 355.03 364.46" y="414.3">LAN - 192.168.2.0<tspan style="font-family:'DejaVu Sans Mono','Liberation Mono',monospace;font-size:15.4px" dy="0.67">/</tspan><tspan dy="-0.67">24</tspan></text>
<text class="b" style="font-size:13.3px" x="429.59 438.05 448.39 459.51 464.52 470.42 475.09 484.52 493.95 503.16 508.16 517.59 527.02 536.23 541.24 550.45 555.46 564.73 574.03 583.46" y="414.3">LAN - 192.168.3.0<tspan style="font-family:'DejaVu Sans Mono','Liberation Mono',monospace;font-size:15.4px" dy="0.67">/</tspan><tspan dy="-0.67">24</tspan></text>
</svg></body></html>
